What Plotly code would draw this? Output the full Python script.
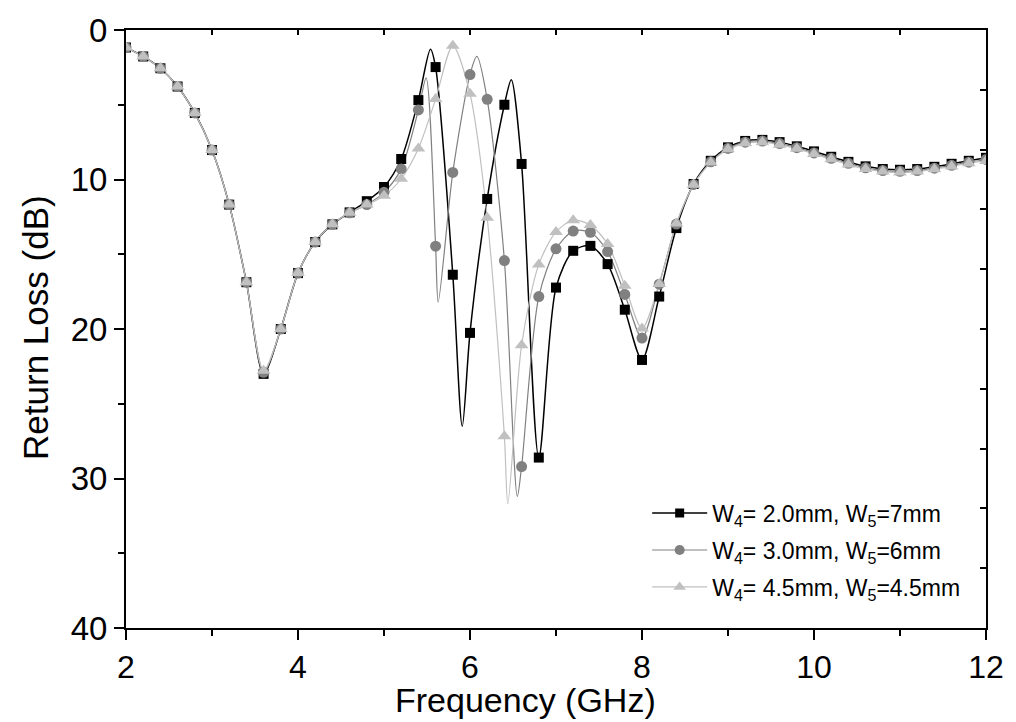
import plotly.graph_objects as go

# Sampled frequency points (GHz) carrying the symbols
freq = [2.0, 2.2, 2.4, 2.6, 2.8, 3.0, 3.2, 3.4, 3.6, 3.8,
        4.0, 4.2, 4.4, 4.6, 4.8, 5.0, 5.2, 5.4, 5.6, 5.8,
        6.0, 6.2, 6.4, 6.6, 6.8, 7.0, 7.2, 7.4, 7.6, 7.8,
        8.0, 8.2, 8.4, 8.6, 8.8, 9.0, 9.2, 9.4, 9.6, 9.8,
        10.0, 10.2, 10.4, 10.6, 10.8, 11.0, 11.2, 11.4, 11.6, 11.8, 12.0]

# Return loss (dB) for each geometry
rl_w4_20 = [1.17, 1.77, 2.56, 3.78, 5.55, 8.03, 11.68, 16.87, 23.0, 20.0,
            16.26, 14.18, 13.0, 12.2, 11.45, 10.5, 8.63, 4.69, 2.48, 16.37,
            20.26, 11.3, 5.0, 8.96, 28.6, 17.23, 14.77, 14.44, 15.66, 18.71,
            22.07, 17.83, 13.25, 10.3, 8.75, 7.85, 7.42, 7.35, 7.5, 7.78,
            8.12, 8.48, 8.82, 9.12, 9.3, 9.35, 9.3, 9.15, 8.95, 8.75, 8.55]
rl_w4_30 = [1.17, 1.77, 2.56, 3.78, 5.55, 8.03, 11.68, 16.87, 22.9, 20.0,
            16.26, 14.18, 13.0, 12.23, 11.68, 10.86, 9.29, 5.35, 14.46, 9.53,
            2.98, 4.64, 15.42, 29.2, 17.83, 14.64, 13.45, 13.53, 14.82, 17.69,
            20.61, 17.0, 12.98, 10.33, 8.82, 7.92, 7.5, 7.43, 7.6, 7.87,
            8.22, 8.58, 8.92, 9.22, 9.4, 9.45, 9.4, 9.24, 9.05, 8.84, 8.66]
rl_w4_45 = [1.17, 1.77, 2.56, 3.78, 5.55, 8.03, 11.68, 16.87, 22.8, 20.0,
            16.26, 14.18, 13.0, 12.23, 11.68, 11.08, 9.95, 7.92, 4.62, 1.06,
            4.27, 12.56, 27.18, 21.08, 15.68, 13.51, 12.72, 13.05, 14.31, 17.1,
            19.97, 16.99, 12.94, 10.35, 8.87, 7.98, 7.58, 7.5, 7.67, 7.94,
            8.29, 8.65, 9.0, 9.29, 9.47, 9.53, 9.47, 9.31, 9.13, 8.91, 8.76]

# Resonance peaks / notches of the continuous curves between symbols
turn_f_w4_20 = [5.54, 5.91, 6.48]
turn_rl_w4_20 = [1.28, 26.5, 3.32]
turn_f_w4_30 = [5.49, 5.63, 6.08, 6.55]
turn_rl_w4_30 = [3.2, 18.2, 1.77, 31.2]
turn_f_w4_45 = [6.44]
turn_rl_w4_45 = [31.7]

labels = ["W<sub>4</sub>= 2.0mm, W<sub>5</sub>=7mm",
          "W<sub>4</sub>= 3.0mm, W<sub>5</sub>=6mm",
          "W<sub>4</sub>= 4.5mm, W<sub>5</sub>=4.5mm"]

FONT = "Liberation Sans, Arial, sans-serif"

series = [
    dict(y=rl_w4_20, tx=turn_f_w4_20, ty=turn_rl_w4_20, color="#000000",
         symbol="square", size=10, lw=1.5),
    dict(y=rl_w4_30, tx=turn_f_w4_30, ty=turn_rl_w4_30, color="#808080",
         symbol="circle", size=11, lw=1.2),
    dict(y=rl_w4_45, tx=turn_f_w4_45, ty=turn_rl_w4_45, color="#c0c0c0",
         symbol="triangle-up", size=12, lw=1.2),
]

fig = go.Figure()

for s in series:
    pts = sorted(list(zip(freq, s["y"])) + list(zip(s["tx"], s["ty"])))
    lx = [p[0] for p in pts]
    ly = [p[1] for p in pts]
    fig.add_trace(go.Scatter(
        x=lx, y=ly, mode="lines", showlegend=False, hoverinfo="skip",
        line=dict(color=s["color"], width=s["lw"], shape="spline", smoothing=0.8)))

for s in series:
    fig.add_trace(go.Scatter(
        x=freq, y=s["y"], mode="markers", showlegend=False,
        marker=dict(symbol=s["symbol"], size=s["size"], color=s["color"],
                    line=dict(width=0))))

# legend entries (line + symbol)
for i, (s, name) in enumerate(zip(series, labels)):
    fig.add_trace(go.Scatter(
        x=[None], y=[None], mode="lines+markers", name=name,
        legendgroup=f"g{i}",
        line=dict(color=s["color"], width=s["lw"]),
        marker=dict(symbol=s["symbol"], size=s["size"] - 1, color=s["color"])))

# mirrored frame axes carrying the inward ticks
fig.add_trace(go.Scatter(x=[None], y=[None], xaxis="x2", yaxis="y2",
                         showlegend=False, hoverinfo="skip"))

axis_common = dict(showgrid=False, zeroline=False, showline=True,
                   linecolor="black", linewidth=2)

fig.update_layout(
    width=1016, height=722,
    margin=dict(l=126, r=25, t=26, b=94),
    paper_bgcolor="white", plot_bgcolor="white",
    font=dict(family=FONT, color="black"),
    xaxis=dict(range=[2, 12], tickvals=[2, 4, 6, 8, 10, 12],
               ticks="outside", ticklen=10, tickwidth=2, tickcolor="black",
               tickfont=dict(size=32, family=FONT),
               minor=dict(tickvals=[3, 5, 7, 9, 11], ticks="outside",
                          ticklen=6, tickwidth=2, tickcolor="black"),
               **axis_common),
    yaxis=dict(range=[40, 0], tickvals=[0, 10, 20, 30, 40],
               ticks="outside", ticklen=10, tickwidth=2, tickcolor="black",
               tickfont=dict(size=33, family=FONT),
               minor=dict(tickvals=[5, 15, 25, 35], ticks="outside",
                          ticklen=6, tickwidth=2, tickcolor="black"),
               **axis_common),
    xaxis2=dict(range=[2, 12], overlaying="x", side="top", anchor="y2",
                tickvals=[3, 4, 5, 6, 7, 8, 9, 10, 11], ticks="inside",
                ticklen=5, tickwidth=1.5, tickcolor="black",
                showticklabels=False, **axis_common),
    yaxis2=dict(range=[40, 0], overlaying="y", side="right", anchor="x2",
                tickvals=[4, 8, 12, 16, 20, 24, 28, 32, 36], ticks="inside",
                ticklen=6, tickwidth=1.5, tickcolor="black",
                showticklabels=False, **axis_common),
    legend=dict(x=0.606, y=0.228, xanchor="left", yanchor="top",
                bgcolor="rgba(0,0,0,0)", borderwidth=0,
                font=dict(size=23, family=FONT), itemwidth=55,
                traceorder="grouped", tracegroupgap=4),
    annotations=[
        dict(text="Frequency (GHz)", xref="paper", yref="paper",
             x=0.4647, y=-0.121, xanchor="center", yanchor="middle",
             showarrow=False, font=dict(size=34, family=FONT)),
        dict(text="Return Loss (dB)", xref="paper", yref="paper",
             x=-0.105, y=0.503, xanchor="center", yanchor="middle",
             textangle=-90, showarrow=False, font=dict(size=35, family=FONT)),
    ],
)

fig.write_html("out.html")
